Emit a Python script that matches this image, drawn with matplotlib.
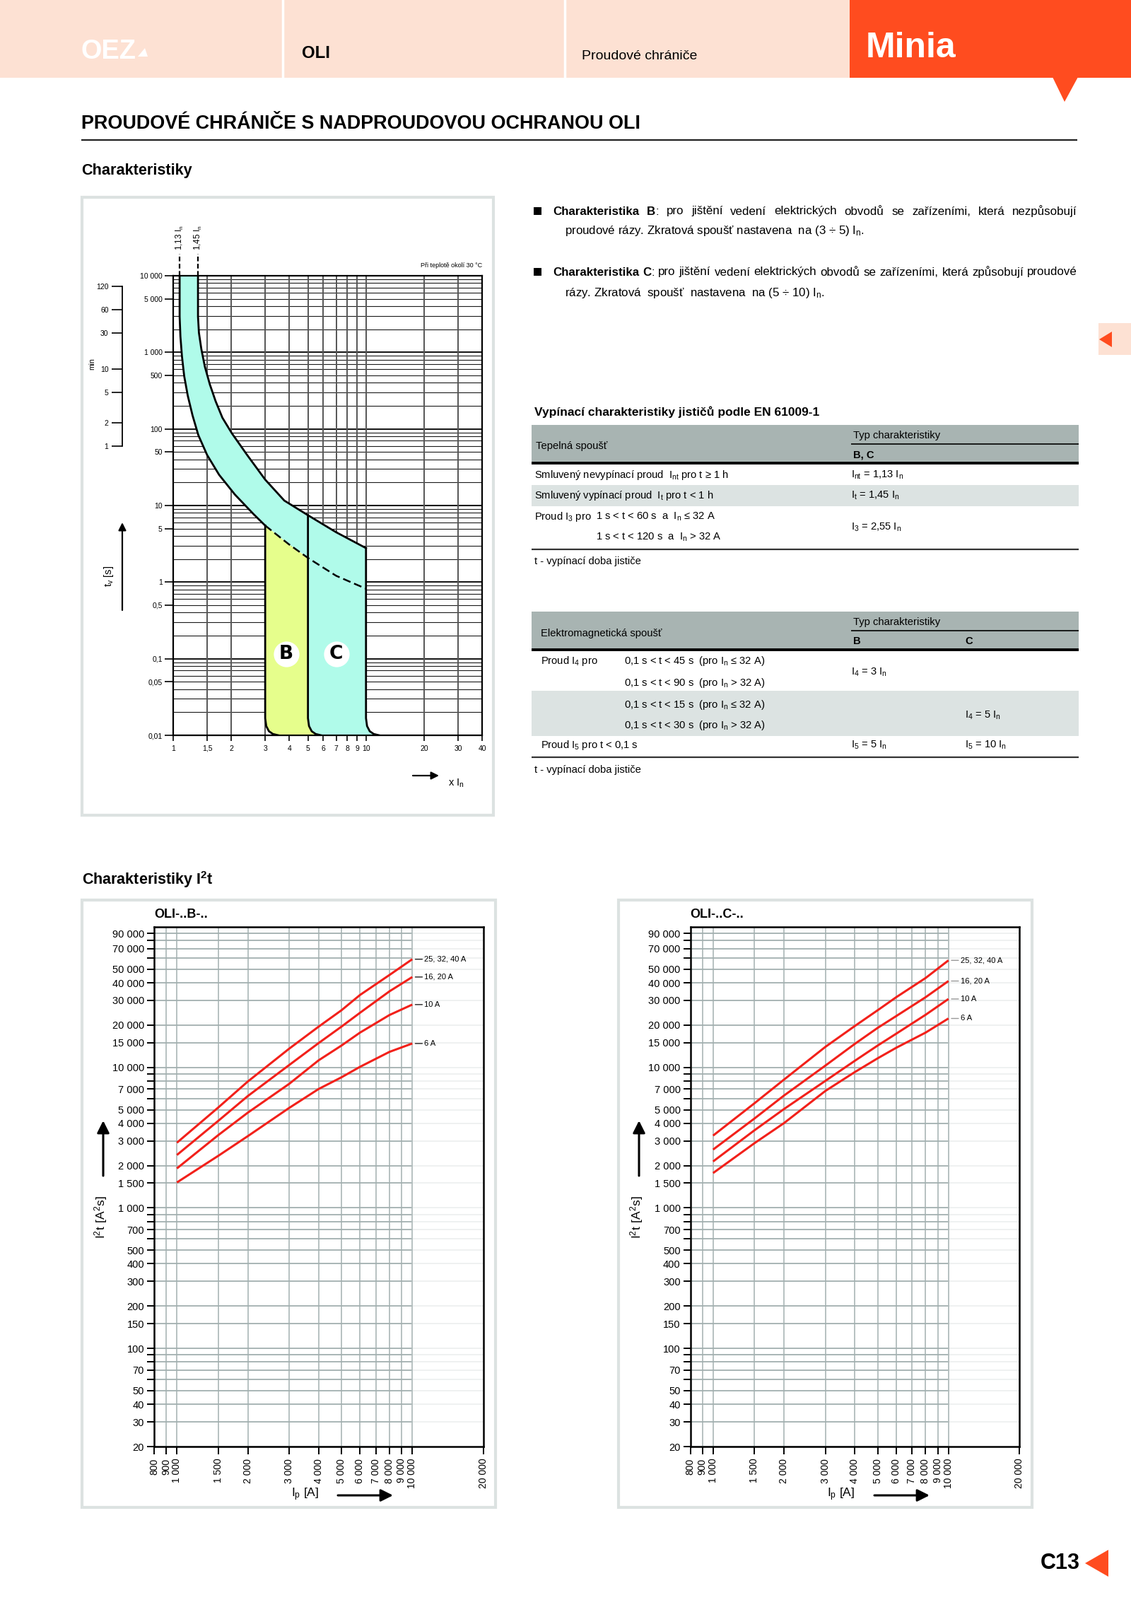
import matplotlib
matplotlib.use('Agg')
import matplotlib.pyplot as plt
from matplotlib.patches import Rectangle, Polygon
from matplotlib.transforms import blended_transform_factory
from matplotlib.ticker import FixedLocator, NullLocator, NullFormatter

plt.rcParams['font.family'] = ['Liberation Sans', 'DejaVu Sans']
plt.rcParams['axes.unicode_minus'] = False

# ---------------- data: time-current characteristic ----------------
trip_xticks = [1, 1.5, 2, 3, 4, 5, 6, 7, 8, 9, 10, 20, 30, 40]
trip_xlabels = ['1', '1,5', '2', '3', '4', '5', '6', '7', '8', '9', '10', '20', '30', '40']
trip_yticks = [0.01, 0.05, 0.1, 0.5, 1, 5, 10, 50, 100, 500, 1000, 5000, 10000]
trip_ylabels = ['0,01', '0,05', '0,1', '0,5', '1', '5', '10', '50', '100', '500', '1 000', '5 000', '10 000']
minute_ticks = [1, 2, 5, 10, 30, 60, 120]

low_x = [1.08, 1.08, 1.09, 1.11, 1.14, 1.19, 1.26, 1.35, 1.50, 1.73, 2.09, 2.62, 3.0]
low_y = [10000, 2937, 1620, 893, 493, 272, 150, 83, 45.6, 25.2, 13.9, 7.65, 5.48]
low_dash_x = [3.0, 3.96, 5.0, 7.0, 10.0]
low_dash_y = [5.48, 3.15, 2.07, 1.21, 0.82]
up_x = [1.345, 1.345, 1.36, 1.40, 1.46, 1.55, 1.66, 1.80, 2.015, 2.42, 3.0, 3.77, 5.0, 7.0, 10.0]
up_y = [10000, 2937, 1800, 1100, 650, 380, 230, 140, 87.8, 45.6, 21.8, 11.6, 7.47, 4.48, 2.78]
edge_x = [3.0, 5.0, 10.0]          # instantaneous trip edges (B start, C start, C end)
edge_top = [5.48, 7.47, 2.78]
corner_dlogx = [0, 0.0055, 0.0194, 0.040, 0.068]
corner_y = [0.0167, 0.0132, 0.0113, 0.0104, 0.01]
nontrip_x = [1.08, 1.345]
nontrip_labels = ['1,13 $\\mathregular{I_n}$', '1,45 $\\mathregular{I_n}$']
zone_labels = ['B', 'C']
zone_x = [3.86, 7.0]
zone_y = [0.115, 0.115]

# ---------------- data: I2t characteristics ----------------
ip_ticks = [800, 900, 1000, 1500, 2000, 3000, 4000, 5000, 6000, 7000, 8000, 9000, 10000, 20000]
i2t_major = [20, 30, 40, 50, 70, 100, 150, 200, 300, 400, 500, 700, 1000, 1500, 2000, 3000,
             4000, 5000, 7000, 10000, 15000, 20000, 30000, 40000, 50000, 70000, 90000]
i2t_minor = [60, 80, 90, 600, 800, 900, 6000, 8000, 9000, 60000, 80000]
ip_x = [1000, 1500, 2000, 3000, 4000, 5000, 6000, 8000, 10000]
b_40 = [2910, 5190, 7930, 13600, 19500, 25500, 32800, 45500, 58900]
b_20 = [2380, 4170, 6250, 10400, 14900, 19500, 24500, 34800, 44000]
b_10 = [1910, 3300, 4760, 7640, 11230, 14300, 17700, 23600, 28000]
b_6 = [1517, 2350, 3240, 5150, 7020, 8500, 10100, 12900, 14800]
c_40 = [3270, 5560, 8180, 14000, 19700, 25500, 31600, 43300, 57800]
c_20 = [2600, 4330, 6300, 10300, 14700, 19100, 23200, 31600, 41200]
c_10 = [2140, 3570, 5050, 8020, 11140, 14300, 17380, 23700, 30700]
c_6 = [1770, 2890, 4010, 6800, 9260, 11600, 13800, 17700, 22300]
curve_labels = ['25, 32, 40 A', '16, 20 A', '10 A', '6 A']

# ---------------- colours ----------------
PEACH = '#FDE1D3'
ORANGE = '#FF4C1F'
CYAN = '#B0FBEA'
YELLOW = '#E6FE8C'
TGREY = '#A8B4B2'
TLIGHT = '#DCE3E2'
BOXC = '#DCE2E1'
GRIDC = '#A3B0B0'
RED = '#F2201A'

W, H = 1600, 2263
fig = plt.figure(figsize=(W / 100, H / 100), dpi=100)
page = fig.add_axes([0, 0, 1, 1])
page.set_xlim(0, W)
page.set_ylim(H, 0)
page.axis('off')
page.set_zorder(0)
renderer = fig.canvas.get_renderer()


def px_axes(x0, y0, x1, y1, z=2):
    a = fig.add_axes([x0 / W, 1 - y1 / H, (x1 - x0) / W, (y1 - y0) / H])
    a.set_zorder(z)
    return a


def T(x, y, s, size, weight='normal', color='k', ha='left', va='center', rot=0, **kw):
    return page.text(x, y, s, fontsize=size, fontweight=weight, color=color, ha=ha, va=va,
                     rotation=rot, **kw)


def width_of(s, size, weight='normal'):
    t = page.text(0, 0, s, fontsize=size, fontweight=weight)
    w = t.get_window_extent(renderer).width
    t.remove()
    return w


def fit_size(s, target, weight='normal'):
    return 20.0 * target / width_of(s, 20, weight)


def FT(x, y, s, target, weight='normal', color='k', ha='left', **kw):
    return T(x, y, s, fit_size(s, target, weight), weight, color, ha, **kw)


def hline(y, x0, x1, lw=1.0, color='k'):
    page.plot([x0, x1], [y, y], color=color, lw=lw, solid_capstyle='butt')


def arrow(x0, y0, x1, y1, lw=1.6, ms=16):
    page.annotate('', xy=(x1, y1), xytext=(x0, y0),
                  arrowprops=dict(arrowstyle='-|>', color='k', lw=lw, mutation_scale=ms,
                                  shrinkA=0, shrinkB=0))


# ---------------- page header ----------------
page.add_patch(Rectangle((0, 0), 1202, 110, color=PEACH, lw=0))
page.add_patch(Rectangle((1202, 0), W - 1202, 110, color=ORANGE, lw=0))
page.add_patch(Polygon([(1489, 109), (1525, 109), (1506, 144)], closed=True, color=ORANGE, lw=0))
page.plot([400, 400], [0, 110], color='white', lw=2.5)
page.plot([799, 799], [0, 110], color='white', lw=2.5)
FT(114, 73, 'OEZ', 78, 'bold', 'white')
page.add_patch(Polygon([(195, 80), (209, 80), (205, 68)], closed=True, color='white', lw=0))
FT(427, 76, 'OLI', 40, 'bold')
FT(823, 79, 'Proudové chrániče', 162)
FT(1225, 68, 'Minia', 127, 'bold', 'white')

FT(115, 175, 'PROUDOVÉ CHRÁNIČE S NADPROUDOVOU OCHRANOU OLI', 791, 'bold')
hline(198, 115, 1524, lw=1.6, color='#222')
FT(115, 241, 'Charakteristiky', 156, 'bold')

# side marker and page number
page.add_patch(Rectangle((1554, 457), 46, 45, color=PEACH, lw=0))
page.add_patch(Polygon([(1555, 480), (1573, 469), (1573, 491)], closed=True, color=ORANGE, lw=0))
FT(1528, 2211, 'C13', 56, 'bold', ha='right')
page.add_patch(Polygon([(1535, 2211), (1568, 2192), (1568, 2230)], closed=True, color=ORANGE, lw=0))


# ---------------- bullet texts (justified first lines) ----------------
def justify(words, x0, x1, y, size):
    items = []
    for word in words:
        pieces = [page.text(0, y, txt, fontsize=size, fontweight=wt, ha='left', va='center')
                  for txt, wt in word]
        items.append(pieces)
    widths = [[p.get_window_extent(renderer).width for p in pieces] for pieces in items]
    total = sum(sum(w) for w in widths)
    gap = (x1 - x0 - total) / (len(items) - 1)
    x = x0
    for pieces, ws in zip(items, widths):
        for p, w in zip(pieces, ws):
            p.set_x(x)
            x += w
        x += gap


b1_l2 = 'proudové rázy. Zkratová spoušť nastavena  na (3 ÷ 5) $\\mathregular{I_n}$.'
BS = fit_size(b1_l2, 423)
line1 = [[('Charakteristika', 'bold')], [('B', 'bold'), (':', 'normal')]] + \
    [[(w, 'normal')] for w in 'pro jištění vedení elektrických obvodů se zařízeními, která nezpůsobují'.split()]
line2 = [[('Charakteristika', 'bold')], [('C', 'bold'), (':', 'normal')]] + \
    [[(w, 'normal')] for w in 'pro jištění vedení elektrických obvodů se zařízeními, která způsobují proudové'.split()]
page.add_patch(Rectangle((755, 293), 11, 11, color='k', lw=0))
justify(line1, 782, 1524, 299, BS)
T(799, 327, b1_l2, BS)
page.add_patch(Rectangle((755, 379), 11, 11, color='k', lw=0))
justify(line2, 782, 1524, 385, BS)
T(799, 414, 'rázy. Zkratová  spoušť  nastavena  na (5 ÷ 10) $\\mathregular{I_n}$.', BS)

# ---------------- tables ----------------
In = '$\\mathregular{I_n}$'
row1 = 'Smluvený nevypínací proud  $\\mathregular{I_{nt}}$ pro t ≥ 1 h'
TS = fit_size(row1, 274)
FT(756, 583, 'Vypínací charakteristiky jističů podle EN 61009-1', 402, 'bold')
page.add_patch(Rectangle((752, 601), 774, 54, color=TGREY, lw=0))
T(758, 631, 'Tepelná spoušť', TS)
T(1207, 616, 'Typ charakteristiky', TS)
hline(628, 1204, 1526, lw=1.2)
T(1207, 643, 'B, C', TS, 'bold')
hline(655, 752, 1526, lw=2.8)
T(756, 672, row1, TS)
T(1204, 672, '$\\mathregular{I_{nt}}$ = 1,13 ' + In, TS)
page.add_patch(Rectangle((752, 686), 774, 30, color=TLIGHT, lw=0))
T(756, 701, 'Smluvený vypínací proud  $\\mathregular{I_t}$ pro t < 1 h', TS)
T(1204, 701, '$\\mathregular{I_t}$ = 1,45 ' + In, TS)
T(756, 731, 'Proud $\\mathregular{I_3}$ pro', TS)
T(843, 731, '1 s < t < 60 s  a  ' + In + ' ≤ 32 A', TS)
T(843, 760, '1 s < t < 120 s  a  ' + In + ' > 32 A', TS)
T(1204, 746, '$\\mathregular{I_3}$ = 2,55 ' + In, TS)
hline(777, 752, 1526, lw=1.6, color='#333')
T(756, 794, 't - vypínací doba jističe', TS)

page.add_patch(Rectangle((752, 865), 774, 54, color=TGREY, lw=0))
T(765, 896, 'Elektromagnetická spoušť', TS)
T(1207, 880, 'Typ charakteristiky', TS)
hline(892, 1204, 1526, lw=1.2)
T(1207, 907, 'B', TS, 'bold')
T(1365, 907, 'C', TS, 'bold')
hline(919, 752, 1526, lw=2.8)
T(765, 935, 'Proud $\\mathregular{I_4}$ pro', TS)
T(883, 935, '0,1 s < t < 45 s  (pro ' + In + ' ≤ 32 A)', TS)
T(883, 966, '0,1 s < t < 90 s  (pro ' + In + ' > 32 A)', TS)
T(1204, 951, '$\\mathregular{I_4}$ = 3 ' + In, TS)
page.add_patch(Rectangle((752, 977), 774, 64, color=TLIGHT, lw=0))
T(883, 997, '0,1 s < t < 15 s  (pro ' + In + ' ≤ 32 A)', TS)
T(883, 1026, '0,1 s < t < 30 s  (pro ' + In + ' > 32 A)', TS)
T(1365, 1012, '$\\mathregular{I_4}$ = 5 ' + In, TS)
T(765, 1054, 'Proud $\\mathregular{I_5}$ pro t < 0,1 s', TS)
T(1204, 1054, '$\\mathregular{I_5}$ = 5 ' + In, TS)
T(1365, 1054, '$\\mathregular{I_5}$ = 10 ' + In, TS)
hline(1071, 752, 1526, lw=1.6, color='#333')
T(756, 1089, 't - vypínací doba jističe', TS)

# ---------------- top chart ----------------
page.add_patch(Rectangle((116, 279), 582, 874, fill=False, edgecolor=BOXC, lw=3))
ax = px_axes(245, 390, 682, 1040)
ax.set_xscale('log')
ax.set_yscale('log')
ax.set_xlim(1, 40)
ax.set_ylim(0.01, 10000)
for dec in range(-2, 4):
    for k in range(1, 10):
        ax.axhline(k * 10.0 ** dec, color='#1a1a1a', lw=1.5 if k == 1 else 0.8, zorder=1)
for v in trip_xticks:
    ax.axvline(v, color='#555555', lw=1.4, zorder=1)


def corner(x0):
    return [x0 * 10 ** d for d in corner_dlogx], list(corner_y)


cx3, cy3 = corner(edge_x[0])
cx5, cy5 = corner(edge_x[1])
cx10, cy10 = corner(edge_x[2])
poly_x = up_x + cx10 + cx5[::-1] + [low_dash_x[2], low_dash_x[1], low_dash_x[0]] + low_x[::-1]
poly_y = up_y + cy10 + cy5[::-1] + [low_dash_y[2], low_dash_y[1], low_dash_y[0]] + low_y[::-1]
ax.fill(poly_x, poly_y, color=CYAN, lw=0, zorder=2)
ypx = low_dash_x[:3] + cx5 + cx3[::-1]
ypy = low_dash_y[:3] + cy5 + cy3[::-1]
ax.fill(ypx, ypy, color=YELLOW, lw=0, zorder=2)

ax.plot(up_x, up_y, color='k', lw=2.0, zorder=3)
ax.plot(low_x, low_y, color='k', lw=2.0, zorder=3)
ax.plot(low_dash_x, low_dash_y, color='k', lw=1.8, ls=(0, (4.5, 2.2)), zorder=3)
for x0, top in zip(edge_x, edge_top):
    xs, ys = corner(x0)
    ax.plot([x0] + xs, [top] + ys, color='k', lw=2.0, zorder=3)

for lab, x, y in zip(zone_labels, zone_x, zone_y):
    ax.scatter([x], [y], s=680, c='white', zorder=4, linewidths=0)
    ax.text(x, y, lab, fontsize=19, fontweight='bold', ha='center', va='center', zorder=5,
            family='DejaVu Sans')

bt = blended_transform_factory(ax.transData, ax.transAxes)
for x, lab in zip(nontrip_x, nontrip_labels):
    ax.plot([x, x], [1.0, 1.048], transform=bt, color='k', lw=1.6, ls=(0, (3, 1.6)), clip_on=False)
    ax.text(x, 1.055, lab, transform=bt, rotation=90, fontsize=8.5, ha='center', va='bottom')

for s in ax.spines.values():
    s.set_linewidth(1.6)
ax.xaxis.set_major_locator(FixedLocator(trip_xticks))
ax.xaxis.set_minor_locator(NullLocator())
ax.set_xticklabels(trip_xlabels)
ax.yaxis.set_major_locator(FixedLocator(trip_yticks))
ax.yaxis.set_minor_locator(NullLocator())
ax.set_yticklabels(trip_ylabels)
ax.tick_params(axis='x', direction='out', length=6, width=1.2, labelsize=7.5, pad=4)
ax.tick_params(axis='y', direction='out', length=9, width=1.2, labelsize=7.5, pad=2)
ax.text(1.0, 1.016, 'Při teplotě okolí 30 °C', transform=ax.transAxes, ha='right', va='bottom', fontsize=6.5)

# minutes scale
axm = px_axes(173, 390, 200, 1040)
axm.set_yscale('log')
axm.set_ylim(0.01, 10000)
axm.set_xlim(0, 1)
for s in ['top', 'right', 'bottom']:
    axm.spines[s].set_visible(False)
axm.spines['left'].set_bounds(60, 7200)
axm.spines['left'].set_linewidth(1.3)
axm.yaxis.set_major_locator(FixedLocator([m * 60 for m in minute_ticks]))
axm.yaxis.set_minor_locator(NullLocator())
axm.set_yticklabels([str(m) for m in minute_ticks])
axm.set_xticks([])
axm.tick_params(axis='y', direction='out', length=11, width=1.2, labelsize=7.5, pad=3)
axm.patch.set_visible(False)

T(130, 515, 'min', 7.5, rot=90, ha='center')
arrow(173, 863, 173, 739)
T(154, 815, '$\\mathregular{t_v}$ [s]', 10.5, rot=90, ha='center')
arrow(584, 1097, 621, 1097)
T(634, 1108, 'x $\\mathregular{I_n}$', 10.5)

# ---------------- I2t charts ----------------
FT(116, 1244, 'Charakteristiky $\\mathregular{I^2}$t', 185, 'bold')


def fmt(v):
    return f'{v:,}'.replace(',', ' ')


def i2t_chart(x0, box_x, title, series, lead_color):
    page.add_patch(Rectangle((box_x, 1273), 585, 859, fill=False, edgecolor=BOXC, lw=3))
    a = px_axes(x0, 1311, x0 + 465.5, 2046)
    a.set_xscale('log')
    a.set_yscale('log')
    a.set_xlim(800, 20000)
    a.set_ylim(20, 100000)
    for v in i2t_major + i2t_minor:
        a.plot([800, 10000], [v, v], color=GRIDC, lw=1.3, zorder=1)
        a.plot([10000, 20000], [v, v], color='#EEF0F0', lw=1.3, zorder=1)
    for v in ip_ticks[1:-1]:
        a.axvline(v, color=GRIDC, lw=1.1, zorder=1)
    for ys, lab in zip(series, curve_labels):
        a.plot(ip_x, ys, color=RED, lw=2.2, zorder=3, solid_capstyle='butt')
        a.annotate(lab, xy=(ip_x[-1], ys[-1]), xytext=(17, 0), textcoords='offset pixels',
                   ha='left', va='center', fontsize=8,
                   arrowprops=dict(arrowstyle='-', color=lead_color, lw=1.0, shrinkA=0, shrinkB=3))
    for s in a.spines.values():
        s.set_linewidth(1.8)
    a.xaxis.set_major_locator(FixedLocator(ip_ticks))
    a.xaxis.set_minor_locator(NullLocator())
    a.set_xticklabels([fmt(v) for v in ip_ticks], rotation=90, va='top', ha='center')
    a.yaxis.set_major_locator(FixedLocator(i2t_major))
    a.yaxis.set_minor_locator(FixedLocator(i2t_minor))
    a.yaxis.set_minor_formatter(NullFormatter())
    a.set_yticklabels([fmt(v) for v in i2t_major])
    a.tick_params(axis='x', direction='out', length=8, width=1.4, labelsize=10, pad=4)
    a.tick_params(axis='y', which='both', direction='out', length=7, width=1.4, labelsize=10.5, pad=3)
    tsz = fit_size(title, 75, 'bold')
    a.text(0, 1.012, title, transform=a.transAxes, ha='left', va='bottom', fontsize=tsz, fontweight='bold')
    return a


i2t_chart(218, 116, 'OLI-..B-..', [b_40, b_20, b_10, b_6], '#222222')
i2t_chart(976.5, 875, 'OLI-..C-..', [c_40, c_20, c_10, c_6], '#999999')

for lx, ax_x, xl, xa in [(143, 146, 432, 478), (901, 904, 1190, 1237)]:
    T(lx, 1722, '$\\mathregular{I^2t\\ [A^2s]}$', 12.5, rot=90, ha='center')
    arrow(ax_x, 1663, ax_x, 1585, lw=2.2, ms=26)
    T(xl, 2114, '$\\mathregular{I_p}$ [A]', 12.5, ha='center')
    arrow(xa, 2115, xa + 78, 2115, lw=2.2, ms=26)

fig.savefig('out.png', dpi=100)
